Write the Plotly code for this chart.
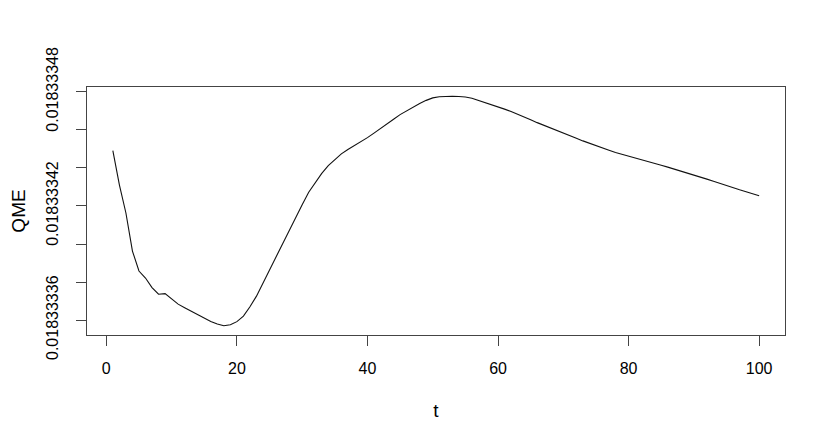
import plotly.graph_objects as go

# QME per time step t = 1..100
t = list(range(1, 101))
qme = [
    0.0183334491, 0.0183334311, 0.0183334163, 0.0183333963, 0.0183333858,
    0.0183333821, 0.0183333771, 0.0183333736, 0.0183333739, 0.0183333712,
    0.0183333684, 0.0183333665, 0.0183333646, 0.0183333628, 0.0183333612,
    0.0183333593, 0.0183333579, 0.0183333570, 0.0183333576, 0.0183333592,
    0.0183333621, 0.0183333670, 0.0183333726, 0.0183333795, 0.0183333867,
    0.0183333935, 0.0183334002, 0.0183334068, 0.0183334139, 0.0183334207,
    0.0183334272, 0.0183334324, 0.0183334371, 0.0183334412, 0.0183334445,
    0.0183334474, 0.0183334497, 0.0183334517, 0.0183334538, 0.0183334559,
    0.0183334583, 0.0183334609, 0.0183334634, 0.0183334656, 0.0183334680,
    0.0183334700, 0.0183334721, 0.0183334738, 0.0183334755, 0.0183334768,
    0.0183334774, 0.0183334776, 0.0183334777, 0.0183334775, 0.0183334773,
    0.0183334766, 0.0183334755, 0.0183334745, 0.0183334734, 0.0183334723,
    0.0183334709, 0.0183334696, 0.0183334683, 0.0183334667, 0.0183334653,
    0.0183334638, 0.0183334625, 0.0183334612, 0.0183334597, 0.0183334584,
    0.0183334569, 0.0183334556, 0.0183334542, 0.0183334529, 0.0183334517,
    0.0183334505, 0.0183334493, 0.0183334481, 0.0183334472, 0.0183334463,
    0.0183334454, 0.0183334444, 0.0183334434, 0.0183334424, 0.0183334414,
    0.0183334404, 0.0183334394, 0.0183334384, 0.0183334373, 0.0183334363,
    0.0183334352, 0.0183334341, 0.0183334330, 0.0183334318, 0.0183334306,
    0.0183334296, 0.0183334285, 0.0183334275, 0.0183334264, 0.0183334254,
]

x_ticks = [0, 20, 40, 60, 80, 100]
y_ticks = [0.01833336, 0.01833338, 0.01833340, 0.01833342,
           0.01833344, 0.01833346, 0.01833348]
y_tick_labels = ["0.01833336", "", "", "0.01833342", "", "", "0.01833348"]

# R-style 4% padding around the data range
def padded(lo, hi):
    pad = (hi - lo) * 0.04
    return [lo - pad, hi + pad]

AXIS = "#444444"
FONT = "Liberation Sans, Arial, sans-serif"

fig = go.Figure(
    go.Scatter(x=t, y=qme, mode="lines", line={"color": "#111111", "width": 1.1},
               showlegend=False, hoverinfo="skip")
)

# page body has an 8px default margin, so the figure is a bit smaller than the window
fig.update_layout(
    width=822,
    height=436,
    margin={"l": 79, "r": 45, "t": 79, "b": 109, "autoexpand": False},
    paper_bgcolor="white",
    plot_bgcolor="white",
    font={"family": FONT, "size": 16, "color": "black"},
)

common = dict(
    showgrid=False,
    zeroline=False,
    showline=True,
    mirror=True,
    linecolor=AXIS,
    linewidth=1,
    ticks="outside",
    ticklen=10,
    tickwidth=1,
    tickcolor=AXIS,
)

fig.update_xaxes(
    range=padded(min(t), max(t)),
    tickvals=x_ticks,
    ticktext=[str(v) for v in x_ticks],
    ticklabelstandoff=9,
    title={"text": "t", "standoff": 27},
    **common,
)
fig.update_yaxes(
    range=padded(min(qme), max(qme)),
    tickvals=y_ticks,
    ticktext=y_tick_labels,
    tickangle=-90,
    ticklabelstandoff=12,
    title={"text": "QME", "standoff": 19},
    **common,
)

fig.write_html("out.html")
